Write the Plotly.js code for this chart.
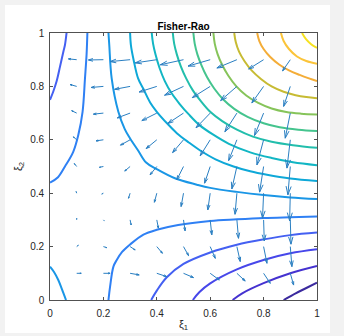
<!DOCTYPE html>
<html>
<head>
<meta charset="utf-8">
<script src="https://cdn.plot.ly/plotly-3.0.1.min.js"></script>
<style>
html,body{margin:0;padding:0;background:#f2f2f2;width:344px;height:336px;overflow:hidden;}
#chart{position:absolute;left:5px;top:5px;width:325px;height:328px;background:#fff;}
</style>
</head>
<body>
<div id="chart"></div>
<script>
// ---------- quiver grid ----------
const gridX = [0.1, 0.2, 0.3, 0.4, 0.5, 0.6, 0.7, 0.8, 0.9];
const gridY = [0.1, 0.2, 0.3, 0.4, 0.5, 0.6, 0.7, 0.8, 0.9];
// U[j][i], V[j][i] : row j = gridY[j], column i = gridX[i]
const U = [
  [ 0.017,  0.025,  0.034,  0.0375, 0.0375, 0.034,  0.031,  0.025,  0.0125],
  [ 0.006,  0.0125, 0.019,  0.021,  0.019,  0.019,  0.0125, 0.0125, 0.006],
  [ 0.0,    0.003,  0.004,  0.006,  0.006,  0.006,  0.006,  0.0025, 0.0025],
  [-0.002, -0.006, -0.006, -0.009, -0.009, -0.009, -0.007, -0.004, -0.0025],
  [-0.009, -0.015, -0.02,  -0.025, -0.025, -0.021, -0.019, -0.015, -0.009],
  [-0.0125,-0.0275,-0.036, -0.04,  -0.041, -0.0375,-0.031, -0.025, -0.0125],
  [-0.019, -0.0375,-0.048, -0.056, -0.059, -0.053, -0.045, -0.034, -0.019],
  [-0.025, -0.046, -0.058, -0.066, -0.071, -0.067, -0.061, -0.044, -0.025],
  [-0.031, -0.056, -0.075, -0.081, -0.087, -0.083, -0.075, -0.056, -0.029]
];
const V = [
  [ 0.0,    0.0,   -0.006, -0.0125,-0.016, -0.025, -0.029, -0.0375,-0.044],
  [ 0.005, -0.004, -0.0125,-0.025, -0.034, -0.044, -0.056, -0.0625,-0.075],
  [ 0.006, -0.003, -0.019, -0.031, -0.041, -0.056, -0.069, -0.079, -0.091],
  [ 0.006, -0.003, -0.019, -0.034, -0.05,  -0.0625,-0.079, -0.094, -0.104],
  [ 0.011, -0.003, -0.017, -0.031, -0.05,  -0.0625,-0.084, -0.096, -0.106],
  [ 0.011, -0.004, -0.02,  -0.033, -0.048, -0.06,  -0.078, -0.094, -0.106],
  [ 0.009, -0.004, -0.018, -0.028, -0.039, -0.055, -0.07,  -0.084, -0.094],
  [ 0.007, -0.004, -0.011, -0.021, -0.033, -0.042, -0.053, -0.062, -0.075],
  [ 0.003, -0.001, -0.007, -0.012, -0.019, -0.024, -0.031, -0.035, -0.042]
];

// ---------- contour lines, low to high ----------
const c01x = [0.875, 0.92, 0.96, 1];
const c01y = [0, 0.025, 0.045, 0.065];
const c02x = [0.684, 0.72, 0.8, 0.9, 1];
const c02y = [0, 0.025, 0.063, 0.1, 0.1275];
const c03x = [0.535, 0.56, 0.6, 0.7, 0.8, 0.9, 1];
const c03y = [0, 0.03, 0.0625, 0.115, 0.15, 0.175, 0.19];
const c04ax = [0.379, 0.4, 0.4375, 0.5, 0.6, 0.7, 0.8, 0.9, 1];
const c04ay = [0, 0.035, 0.085, 0.135, 0.178, 0.207, 0.227, 0.243, 0.2525];
const c04bx = [0, 0.012, 0.025, 0.0375, 0.05, 0.056, 0.062];
const c04by = [0.75, 0.78, 0.82, 0.874, 0.93, 0.955, 1];
const c05ax = [0.219, 0.225, 0.2375, 0.25, 0.27, 0.3, 0.35, 0.4, 0.48, 0.6, 0.7, 0.8, 0.9, 1];
const c05ay = [0, 0.05, 0.125, 0.15, 0.18, 0.208, 0.245, 0.263, 0.281, 0.296, 0.302, 0.307, 0.31, 0.3125];
const c05bx = [0, 0.03, 0.056, 0.087, 0.106, 0.122, 0.131, 0.137, 0.14];
const c05by = [0.44, 0.46, 0.5, 0.555, 0.618, 0.705, 0.83, 0.92, 1];
const c06ax = [0.219, 0.222, 0.231, 0.256, 0.28, 0.3, 0.33, 0.36, 0.4, 0.47, 0.55, 0.6, 0.7, 0.8, 0.9, 1];
const c06ay = [1, 0.955, 0.83, 0.705, 0.64, 0.605, 0.56, 0.515, 0.49, 0.455, 0.432, 0.42, 0.405, 0.393, 0.384, 0.378];
const c06bx = [0, 0.015, 0.031, 0.045, 0.06];
const c06by = [0.125, 0.105, 0.075, 0.04, 0];
const c07x = [0.3, 0.303, 0.313, 0.33, 0.35, 0.375, 0.4, 0.44, 0.475, 0.52, 0.5625, 0.62, 0.6875, 0.75, 0.8125, 0.9, 1];
const c07y = [1, 0.955, 0.9, 0.83, 0.79, 0.74, 0.705, 0.66, 0.625, 0.59, 0.56, 0.527, 0.5, 0.482, 0.469, 0.455, 0.446];
const c08x = [0.381, 0.386, 0.395, 0.41, 0.43, 0.455, 0.485, 0.52, 0.56, 0.61, 0.67, 0.75, 0.83, 0.91, 1];
const c08y = [1, 0.96, 0.92, 0.87, 0.82, 0.775, 0.735, 0.695, 0.655, 0.62, 0.585, 0.553, 0.532, 0.516, 0.505];
const c09x = [0.46, 0.465, 0.475, 0.49, 0.51, 0.535, 0.565, 0.6, 0.645, 0.7, 0.76, 0.83, 0.91, 1];
const c09y = [1, 0.96, 0.92, 0.875, 0.83, 0.785, 0.745, 0.705, 0.67, 0.638, 0.612, 0.593, 0.58, 0.57];
const c10x = [0.537, 0.542, 0.552, 0.567, 0.588, 0.615, 0.648, 0.69, 0.74, 0.8, 0.86, 0.93, 1];
const c10y = [1, 0.96, 0.92, 0.88, 0.835, 0.792, 0.752, 0.716, 0.686, 0.662, 0.647, 0.638, 0.633];
const c11x = [0.612, 0.617, 0.628, 0.645, 0.668, 0.698, 0.735, 0.78, 0.83, 0.885, 0.94, 1];
const c11y = [1, 0.96, 0.92, 0.88, 0.84, 0.8, 0.766, 0.738, 0.717, 0.704, 0.698, 0.695];
const c12x = [0.69, 0.696, 0.708, 0.728, 0.755, 0.79, 0.83, 0.875, 0.92, 0.96, 1];
const c12y = [1, 0.965, 0.93, 0.895, 0.86, 0.828, 0.8, 0.78, 0.767, 0.76, 0.756];
const c13x = [0.776, 0.784, 0.8, 0.825, 0.858, 0.895, 0.935, 0.97, 1];
const c13y = [1, 0.97, 0.94, 0.91, 0.882, 0.86, 0.843, 0.83, 0.82];
const c14x = [0.865, 0.875, 0.895, 0.925, 0.96, 1];
const c14y = [1, 0.97, 0.94, 0.912, 0.895, 0.885];
const c15x = [0.944, 0.958, 0.978, 1];
const c15y = [1, 0.978, 0.958, 0.944];

const levelColors = ['#3b2a9e','#4532d0','#4747ea','#4460f2','#2f80f4','#1a96e6','#0ea8d8','#12b6c4',
                     '#22beac','#45c48e','#86c45a','#c7bb33','#f4ad38','#fbc43a','#f6e221'];

const curves = [
  [c01x, c01y, 0], [c02x, c02y, 1], [c03x, c03y, 2],
  [c04ax, c04ay, 3], [c04bx, c04by, 3],
  [c05ax, c05ay, 4], [c05bx, c05by, 4],
  [c06ax, c06ay, 5], [c06bx, c06by, 5],
  [c07x, c07y, 6], [c08x, c08y, 7], [c09x, c09y, 8], [c10x, c10y, 9],
  [c11x, c11y, 10], [c12x, c12y, 11], [c13x, c13y, 12], [c14x, c14y, 13], [c15x, c15y, 14]
];

const traces = curves.map(c => ({
  type: 'scatter', mode: 'lines', x: c[0], y: c[1],
  line: {color: levelColors[c[2]], width: 2, shape: 'spline', smoothing: 1},
  hoverinfo: 'skip', showlegend: false
}));

// quiver as line segments with open arrow heads (MATLAB style)
const alpha = 0.3, beta = 0.3;
const qx = [], qy = [];
for (let j = 0; j < gridY.length; j++) {
  for (let i = 0; i < gridX.length; i++) {
    const x = gridX[i], y = gridY[j], u = U[j][i], v = V[j][i];
    qx.push(x, x + u, null);
    qy.push(y, y + v, null);
    qx.push(x + u - alpha * (u + beta * v), x + u, x + u - alpha * (u - beta * v), null);
    qy.push(y + v - alpha * (v - beta * u), y + v, y + v - alpha * (v + beta * u), null);
  }
}
traces.push({
  type: 'scatter', mode: 'lines', x: qx, y: qy,
  line: {color: '#2a7fc2', width: 1}, hoverinfo: 'skip', showlegend: false
});

const tickVals = [0, 0.2, 0.4, 0.6, 0.8, 1];
const tickText = ['0', '0.2', '0.4', '0.6', '0.8', '1'];
const axisCommon = {
  range: [0, 1], tickvals: tickVals, ticktext: tickText,
  showgrid: false, zeroline: false, showline: true, mirror: 'ticks',
  ticks: 'inside', ticklen: 3, tickwidth: 0.8, tickcolor: '#262626',
  linecolor: '#262626', linewidth: 0.8,
  tickfont: {family: 'Liberation Sans, Arial, sans-serif', size: 10, color: '#262626'},
  fixedrange: true
};

const layout = {
  width: 325, height: 328,
  margin: {l: 45, r: 13, t: 28, b: 33},
  paper_bgcolor: '#ffffff', plot_bgcolor: '#ffffff',
  title: {text: '<b>Fisher-Rao</b>', font: {family: 'Liberation Sans, Arial, sans-serif', size: 10, color: '#000'},
          xref: 'paper', x: 0.5, xanchor: 'center', yref: 'container', y: 1 - 21 / 328, yanchor: 'middle'},
  xaxis: Object.assign({}, axisCommon, {
    title: {text: 'ξ<sub>1</sub>', font: {family: 'Liberation Sans, Arial, sans-serif', size: 11, color: '#262626'}, standoff: 2},
    ticklabelstandoff: 4
  }),
  yaxis: Object.assign({}, axisCommon, {
    title: {text: 'ξ<sub>2</sub>', font: {family: 'Liberation Sans, Arial, sans-serif', size: 11, color: '#262626'}, standoff: 5},
    ticklabelstandoff: 3
  }),
  showlegend: false
};

Plotly.newPlot('chart', traces, layout, {staticPlot: true, displayModeBar: false});
</script>
</body>
</html>
